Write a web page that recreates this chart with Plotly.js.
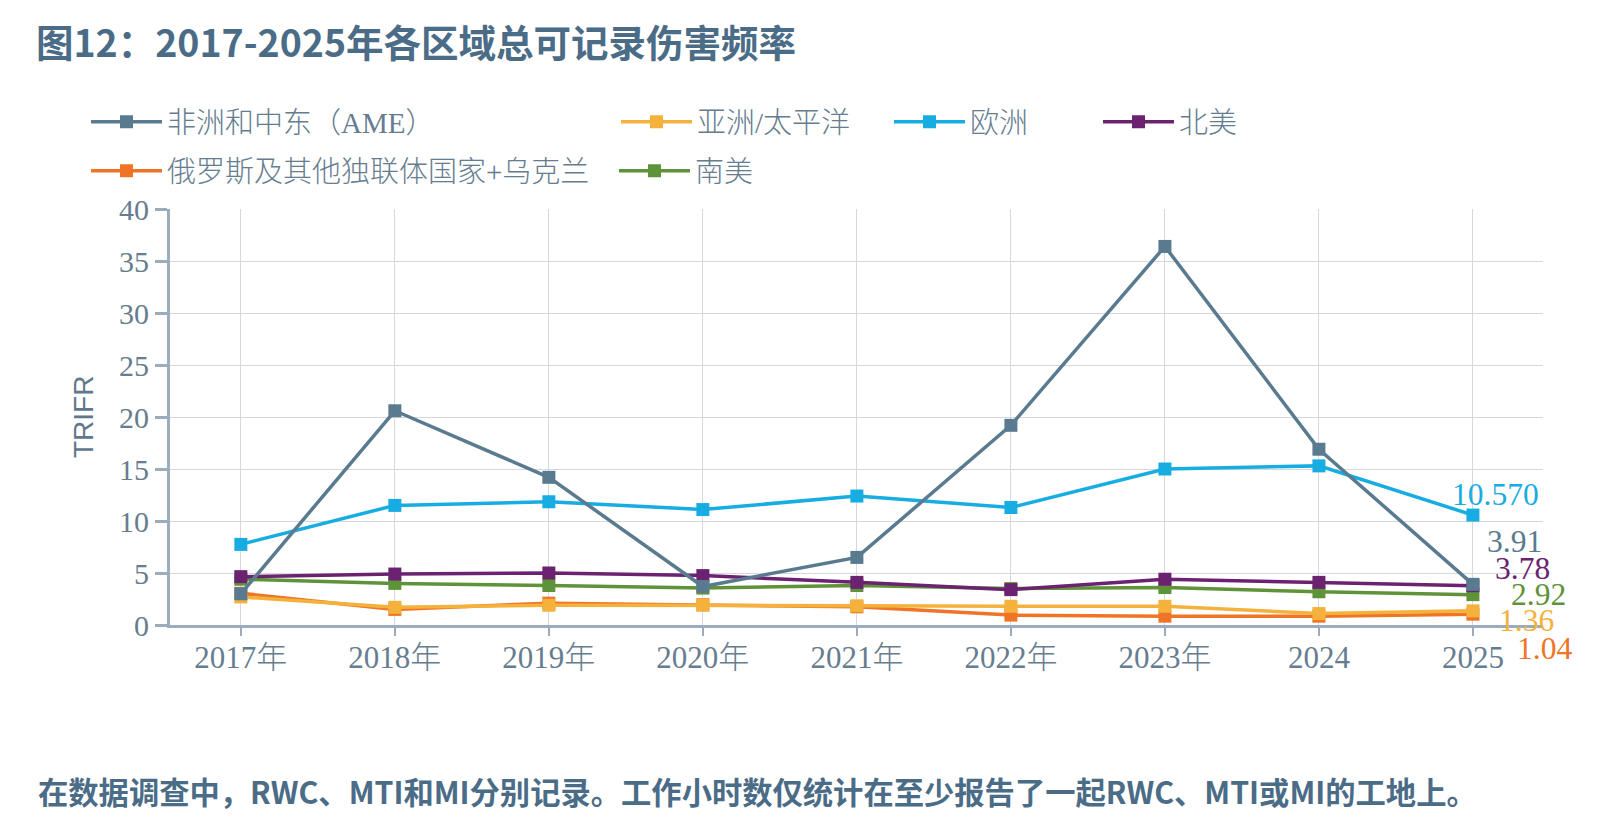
<!DOCTYPE html>
<html>
<head>
<meta charset="utf-8">
<script src="https://cdn.plot.ly/plotly-3.0.1.min.js"></script>
<style>
  html, body { margin: 0; padding: 0; background: #ffffff; }
  #chart { width: 1618px; height: 824px; }
</style>
</head>
<body>
<div id="chart"></div>
<script>
// Years on the category axis
const years = ['2017年', '2018年', '2019年', '2020年', '2021年', '2022年', '2023年', '2024', '2025'];

// Total recordable injury frequency rate by region
const seriesNames = ['非洲和中东（AME）', '亚洲/太平洋', '欧洲', '北美', '俄罗斯及其他独联体国家+乌克兰', '南美'];
const ame          = [3.0, 20.6, 14.2, 3.7, 6.5, 19.2, 36.4, 16.9, 3.91];
const asiaPacific  = [2.7, 1.7, 1.9, 1.9, 1.85, 1.8, 1.8, 1.1, 1.36];
const europe       = [7.75, 11.5, 11.85, 11.1, 12.4, 11.3, 15.0, 15.3, 10.570];
const northAmerica = [4.65, 4.9, 5.0, 4.75, 4.1, 3.4, 4.4, 4.1, 3.78];
const russiaCis    = [3.05, 1.5, 2.1, 1.95, 1.75, 0.95, 0.85, 0.85, 1.04];
const southAmerica = [4.4, 4.0, 3.8, 3.55, 3.8, 3.5, 3.6, 3.2, 2.92];

const seriesValues = [ame, asiaPacific, europe, northAmerica, russiaCis, southAmerica];

// Styling per series: colour, decimals of the end label, end-label offset,
// and where its legend entry sits on the page (pixels).
const styles = [
  { color: '#5a7b8f', decimals: 2, dx: 42, dy: 43,  legend: 'legend',  lx: 86,  ly: 122 },
  { color: '#f4b23c', decimals: 2, dx: 54, dy: -10, legend: 'legend2', lx: 616, ly: 122 },
  { color: '#18ade2', decimals: 3, dx: 23, dy: 21,  legend: 'legend3', lx: 889, ly: 122 },
  { color: '#6b2271', decimals: 2, dx: 50, dy: 17,  legend: 'legend4', lx: 1098, ly: 122 },
  { color: '#ef7426', decimals: 2, dx: 72, dy: -34, legend: 'legend5', lx: 86,  ly: 171 },
  { color: '#5f9339', decimals: 2, dx: 66, dy: 0,   legend: 'legend6', lx: 614, ly: 171 }
];

const W = 1618, H = 824;
const plotLeft = 170, plotRight = 1543, plotTop = 209, plotBottom = 625;

const serifFont = 'Liberation Serif, "Noto Sans CJK SC", serif';
const textGrey = '#667d90';
const axisGrey = '#9badbd';
const gridGrey = '#d5d9de';

// Draw order: AME last so it sits on top
const drawOrder = [5, 4, 3, 1, 2, 0];

const traces = drawOrder.map(i => ({
  type: 'scatter',
  mode: 'lines+markers',
  name: seriesNames[i],
  x: years,
  y: seriesValues[i],
  legend: styles[i].legend,
  line: { color: styles[i].color, width: 3.5 },
  marker: { symbol: 'square', size: 13, color: styles[i].color }
}));

// Value labels at the last year (x given as the category index)
const lastIdx = years.length - 1;
const endLabels = seriesValues.map((vals, i) => ({
  xref: 'x', yref: 'y',
  x: lastIdx, y: vals[lastIdx],
  text: vals[lastIdx].toFixed(styles[i].decimals),
  showarrow: false,
  xshift: styles[i].dx, yshift: styles[i].dy,
  xanchor: 'center', yanchor: 'middle',
  font: { family: serifFont, size: 31.5, color: styles[i].color }
}));

const plotW = plotRight - plotLeft, plotH = plotBottom - plotTop;
const footnote = {
  xref: 'paper', yref: 'paper',
  x: (36 - plotLeft) / plotW,
  y: (plotBottom - 791) / plotH,
  xanchor: 'left', yanchor: 'middle',
  showarrow: false,
  text: '在数据调查中，RWC、MTI和MI分别记录。工作小时数仅统计在至少报告了一起RWC、MTI或MI的工地上。',
  font: { family: '"Noto Sans CJK SC", sans-serif', size: 30.3, weight: 700, color: '#4b6c87' }
};

// Rotated axis title
const yTitle = {
  xref: 'paper', yref: 'paper',
  x: (83 - plotLeft) / plotW,
  y: (plotBottom - 417) / plotH,
  xanchor: 'center', yanchor: 'middle',
  textangle: -90,
  showarrow: false,
  text: 'TRIFR',
  font: { family: 'Liberation Sans, Arial, sans-serif', size: 28, color: '#5f788d' }
};

const layout = {
  width: W, height: H,
  paper_bgcolor: '#ffffff', plot_bgcolor: '#ffffff',
  margin: { l: plotLeft, r: W - plotRight, t: plotTop, b: H - plotBottom, pad: 0, autoexpand: false },
  showlegend: true,
  title: {
    text: '图12：2017-2025年各区域总可记录伤害频率',
    xref: 'container', yref: 'container',
    x: 36 / W, xanchor: 'left',
    y: 1 - 43.5 / H, yanchor: 'middle',
    font: { family: '"Noto Sans CJK SC", sans-serif', size: 37.5, weight: 700, color: '#4b6c87' }
  },
  xaxis: {
    type: 'category',
    range: [-0.46, 8.455],
    showgrid: true, gridcolor: gridGrey, gridwidth: 1,
    showline: true, linecolor: axisGrey, linewidth: 3,
    ticks: 'outside', ticklen: 8, tickwidth: 2, tickcolor: axisGrey,
    ticklabelstandoff: -5,
    tickfont: { family: serifFont, size: 31, weight: 300, color: textGrey },
    zeroline: false, fixedrange: true
  },
  yaxis: {
    range: [0, 40], dtick: 5, tick0: 0,
    showgrid: true, gridcolor: gridGrey, gridwidth: 1,
    showline: true, linecolor: axisGrey, linewidth: 3,
    ticks: 'outside', ticklen: 12, tickwidth: 3, tickcolor: axisGrey,
    tickfont: { family: serifFont, size: 30, weight: 300, color: textGrey },
    zeroline: false, fixedrange: true
  },
  annotations: endLabels.concat([yTitle, footnote])
};

// One single-entry legend per series so each entry can be placed freely
styles.forEach(s => {
  layout[s.legend] = {
    xref: 'container', yref: 'container',
    x: s.lx / W, xanchor: 'left',
    y: 1 - s.ly / H, yanchor: 'middle',
    orientation: 'v',
    bgcolor: 'rgba(0,0,0,0)',
    borderwidth: 0,
    itemwidth: 71,
    itemclick: false, itemdoubleclick: false,
    font: { family: serifFont, size: 29, weight: 300, color: textGrey }
  };
});

Plotly.newPlot('chart', traces, layout, { staticPlot: true, displayModeBar: false });
</script>
</body>
</html>
